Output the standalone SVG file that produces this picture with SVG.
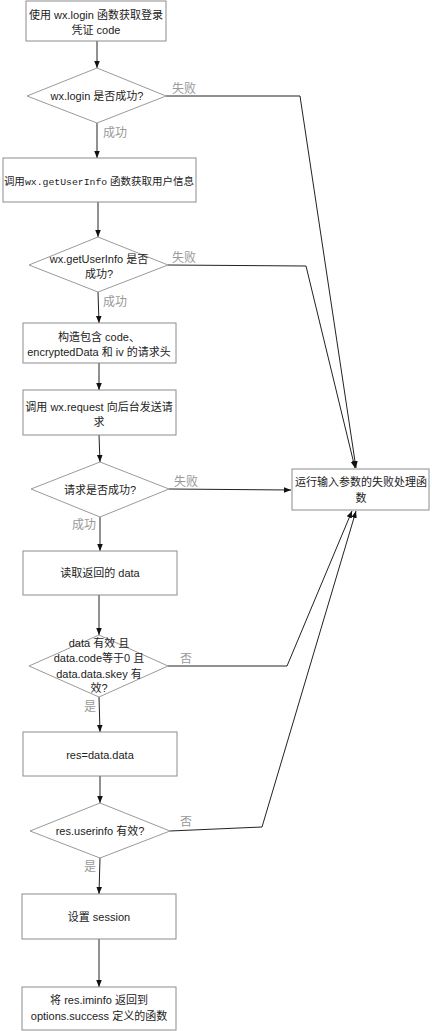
<svg xmlns="http://www.w3.org/2000/svg" width="432" height="1031" viewBox="0 0 432 1031">
<defs>
<marker id="ah" viewBox="0 0 10 10" refX="10" refY="5" markerWidth="7" markerHeight="7" orient="auto" markerUnits="userSpaceOnUse">
<path d="M0,1 L10,5 L0,9 Z" fill="#111"/>
</marker>
<style>
.box{fill:#fff;stroke:#8c8c8c;stroke-width:1}
.dia{fill:#fff;stroke:#9a9a9a;stroke-width:1}
.t{font-family:"Liberation Sans","Noto Sans CJK SC",sans-serif;font-size:11px;fill:#222;text-anchor:middle}
.m{font-family:"Liberation Mono","DejaVu Sans Mono",monospace;font-size:10px}
.lb{font-family:"Liberation Sans","Noto Sans CJK SC",sans-serif;font-size:12px;fill:#999}
.c{fill:none;stroke:#222;stroke-width:1}
.ca{fill:none;stroke:#222;stroke-width:1;marker-end:url(#ah)}
</style>
</defs>
<rect width="432" height="1031" fill="#fff"/>
<g id="connectors">
<line class="ca" x1="97" y1="41" x2="97" y2="68"/>
<line class="ca" x1="97" y1="123" x2="97" y2="158"/>
<line class="ca" x1="98" y1="202" x2="98" y2="237"/>
<line class="ca" x1="98" y1="292" x2="99" y2="323"/>
<line class="ca" x1="99" y1="363" x2="99" y2="390"/>
<line class="ca" x1="99" y1="435" x2="100" y2="462"/>
<line class="ca" x1="100" y1="517" x2="100" y2="551"/>
<line class="ca" x1="99" y1="595" x2="99" y2="635"/>
<line class="ca" x1="99" y1="697" x2="100" y2="732"/>
<line class="ca" x1="100" y1="776" x2="100" y2="803"/>
<line class="ca" x1="100" y1="858" x2="99" y2="894"/>
<line class="ca" x1="99" y1="939" x2="99" y2="987"/>
<polyline class="ca" points="166,96 300,96 356,468"/>
<polyline class="ca" points="168,265 306,266 355,468"/>
<polyline class="ca" points="169,489 291,490"/>
<polyline class="ca" points="168,666 287,666 352,511"/>
<polyline class="ca" points="170,831 262,827 356,511"/>
<text class="lb" x="172" y="93">失败</text>
<text class="lb" x="103" y="137">成功</text>
<text class="lb" x="172" y="262">失败</text>
<text class="lb" x="103" y="306">成功</text>
<text class="lb" x="174" y="486">失败</text>
<text class="lb" x="72" y="529">成功</text>
<text class="lb" x="180" y="663">否</text>
<text class="lb" x="84" y="711">是</text>
<text class="lb" x="180" y="826">否</text>
<text class="lb" x="84" y="871">是</text>
</g>
<g id="n1">
<rect class="box" x="26" y="1" width="140" height="40"/>
<text class="t" x="96" y="19">使用 wx.login 函数获取登录</text>
<text class="t" x="96" y="34">凭证 code</text>
</g>
<g id="d1">
<polygon class="dia" points="97,68 166,96 97,123 27,96"/>
<text class="t" x="97" y="100">wx.login 是否成功?</text>
</g>
<g id="n2">
<rect class="box" x="3" y="158" width="193" height="44"/>
<text class="t" x="99" y="185" style="font-size:10.5px">调用<tspan class="m" style="font-size:9.8px">wx.getUserInfo</tspan> 函数获取用户信息</text>
</g>
<g id="d2">
<polygon class="dia" points="98,237 168,265 98,292 29,265"/>
<text class="t" x="99" y="263">wx.getUserInfo 是否</text>
<text class="t" x="99" y="278">成功?</text>
</g>
<g id="n3">
<rect class="box" x="23" y="323" width="153" height="40"/>
<text class="t" x="99" y="341">构造包含 code、</text>
<text class="t" x="99" y="356">encryptedData 和 iv 的请求头</text>
</g>
<g id="n4">
<rect class="box" x="23" y="390" width="153" height="45"/>
<text class="t" x="99" y="411">调用 wx.request 向后台发送请</text>
<text class="t" x="99" y="426">求</text>
</g>
<g id="d3">
<polygon class="dia" points="100,462 169,489 100,517 31,489"/>
<text class="t" x="100" y="494">请求是否成功?</text>
</g>
<g id="n5">
<rect class="box" x="23" y="551" width="154" height="44"/>
<text class="t" x="100" y="577">读取返回的 data</text>
</g>
<g id="d4">
<polygon class="dia" points="99,635 168,666 99,697 29,666"/>
<text class="t" x="99" y="647">data 有效 且</text>
<text class="t" x="99" y="662">data.code等于0 且</text>
<text class="t" x="99" y="678">data.data.skey 有</text>
<text class="t" x="99" y="692">效?</text>
</g>
<g id="n6">
<rect class="box" x="23" y="732" width="154" height="44"/>
<text class="t" x="100" y="759">res=data.data</text>
</g>
<g id="d5">
<polygon class="dia" points="100,803 170,831 100,858 30,831"/>
<text class="t" x="100" y="835">res.userinfo 有效?</text>
</g>
<g id="n7">
<rect class="box" x="22" y="894" width="154" height="45"/>
<text class="t" x="99" y="921">设置 session</text>
</g>
<g id="n8">
<rect class="box" x="22" y="987" width="154" height="43"/>
<text class="t" x="99" y="1004">将 res.iminfo 返回到</text>
<text class="t" x="99" y="1020">options.success 定义的函数</text>
</g>
<g id="n9">
<rect class="box" x="292" y="469" width="137" height="41"/>
<text class="t" x="361" y="486">运行输入参数的失败处理函</text>
<text class="t" x="361" y="502">数</text>
</g>
</svg>
